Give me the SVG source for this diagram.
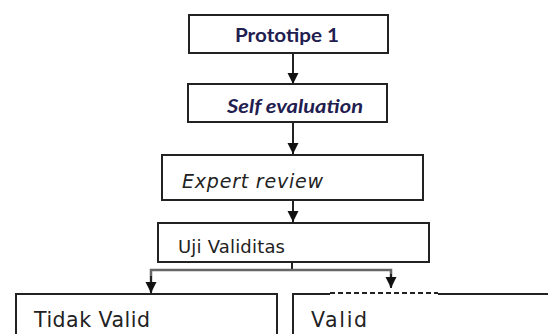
<svg xmlns="http://www.w3.org/2000/svg" width="548" height="334" viewBox="0 0 548 334">
<style>
.box{fill:#fff;stroke:#222;stroke-width:2}
.ln{fill:none;stroke:#222;stroke-width:2}
.t1{font-family:Lato,"Open Sans",sans-serif;font-weight:bold;font-size:19px;fill:#1f2050}
.t2{font-family:"DejaVu Sans",Verdana,sans-serif;fill:#222}
</style>
<defs>
<marker id="ah" markerUnits="userSpaceOnUse" markerWidth="12" markerHeight="12" viewBox="0 0 12 12" refX="11" refY="6" orient="auto">
<path d="M0,0.5 L11,6 L0,11.5 Z" fill="#111"/>
</marker>
</defs>
<g id="connectors">
<line class="ln" x1="293" y1="53" x2="293" y2="84" marker-end="url(#ah)"/>
<line class="ln" x1="293" y1="122" x2="293" y2="154" marker-end="url(#ah)"/>
<line class="ln" x1="293" y1="200" x2="293" y2="222" marker-end="url(#ah)"/>
<line class="ln" x1="292" y1="262" x2="292" y2="270"/>
<polyline points="151,292 151,270 391,270 391,287" fill="none" stroke="#666" stroke-width="2.5"/>
<line class="ln" x1="151" y1="276" x2="151" y2="293" marker-end="url(#ah)"/>
<line class="ln" x1="391" y1="274" x2="391" y2="288" marker-end="url(#ah)"/>
</g>
<g id="n1">
<rect class="box" x="189" y="15" width="199" height="38"/>
<text class="t1" x="235" y="42" textLength="104" lengthAdjust="spacingAndGlyphs">Prototipe 1</text>
</g>
<g id="n2">
<rect class="box" x="188" y="84" width="199" height="38"/>
<text class="t1" x="227" y="113" font-style="italic" textLength="136" lengthAdjust="spacingAndGlyphs">Self evaluation</text>
</g>
<g id="n3">
<rect class="box" x="162" y="155" width="261" height="45"/>
<text class="t2" x="182" y="188" font-size="19" font-style="italic" textLength="141" lengthAdjust="spacing">Expert review</text>
</g>
<g id="n4">
<rect class="box" x="158" y="223" width="271" height="39"/>
<text class="t2" x="178" y="253" font-size="18" textLength="107" lengthAdjust="spacing">Uji Validitas</text>
</g>
<g id="n5">
<rect class="box" x="16" y="294" width="261" height="60"/>
<text class="t2" x="34" y="327" font-size="20.5" textLength="116" lengthAdjust="spacing">Tidak Valid</text>
</g>
<g id="n6">
<path class="ln" d="M293,340 L293,294 L330,294 M438,294 L550,294"/>
<line x1="330" y1="293" x2="438" y2="293" stroke="#222" stroke-width="2" stroke-dasharray="5,3"/>
<text class="t2" x="311" y="327" font-size="20.5" textLength="56" lengthAdjust="spacing">Valid</text>
</g>
</svg>
